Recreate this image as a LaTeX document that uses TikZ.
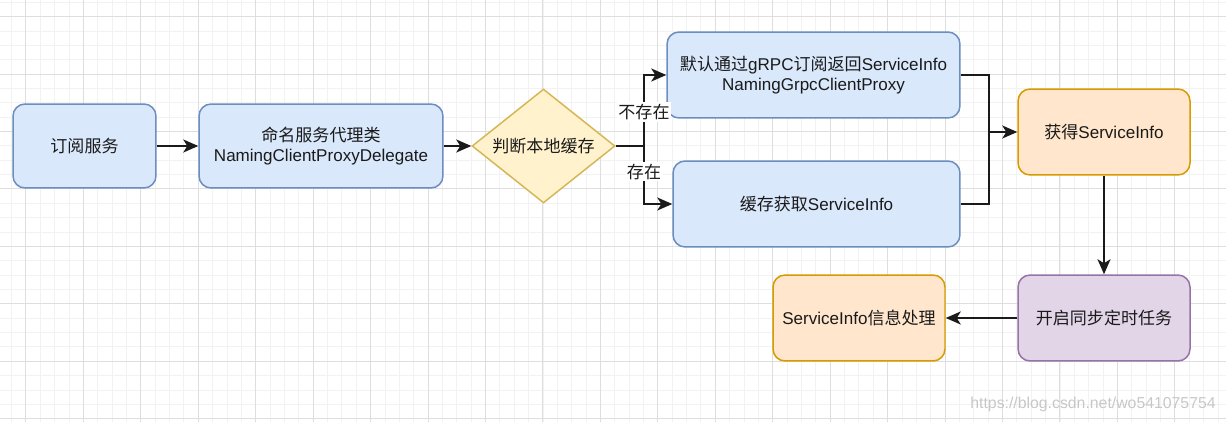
\documentclass[tikz,border=0pt]{standalone}
\usepackage{fontspec}
\setmainfont{Liberation Sans}
\newfontfamily\cjk{Noto Sans CJK SC}
\usetikzlibrary{arrows.meta, positioning, shapes.geometric, calc}
\definecolor{bluefill}{HTML}{DAE8FC}
\definecolor{bluedraw}{HTML}{6C8EBF}
\definecolor{yellowfill}{HTML}{FFF2CC}
\definecolor{yellowdraw}{HTML}{D6B656}
\definecolor{orangefill}{HTML}{FFE6CC}
\definecolor{orangedraw}{HTML}{D79B00}
\definecolor{purplefill}{HTML}{E1D5E7}
\definecolor{purpledraw}{HTML}{9673A6}
\definecolor{cink}{HTML}{1A1A1A}
\tikzset{
  every picture/.style={font=\fontsize{9.7}{11.4}\selectfont, line width=0.85pt},
  box/.style={draw=#1draw, fill=#1fill, rounded corners=0.24cm, align=center, inner sep=2pt,
              minimum height=1.72cm, text=cink},
  box/.default=blue,
  decide/.style={diamond, draw=yellowdraw, fill=yellowfill, aspect=1.25, inner sep=0pt,
                 minimum width=2.86cm, minimum height=2.28cm, text=cink},
  arrow/.style={-{Stealth[length=0.3cm, width=0.26cm, inset=0.08cm]}, draw=cink, line width=1.1pt},
  link/.style={draw=cink, line width=1.1pt},
  lbl/.style={fill=white, inner sep=1pt, text=cink},
  gridminor/.style={draw=black!5, line width=0.4pt},
  gridmajor/.style={draw=black!13, line width=0.5pt},
  watermark/.style={text=black!22, font=\fontsize{9}{11}\selectfont},
}

\begin{document}
\begin{tikzpicture}[x=0.02cm, y=-0.02cm]
  \useasboundingbox (0,0) rectangle (1226,422);
  % background grid
  \foreach \i in {-1,...,84} \draw[gridminor] ({25.8+14.3625*\i},0) -- ({25.8+14.3625*\i},422);
  \foreach \j in {-1,...,28} \draw[gridminor] (0,{16.5+14.3625*\j}) -- (1226,{16.5+14.3625*\j});
  \foreach \i in {0,...,21} \draw[gridmajor] ({25.8+57.45*\i},0) -- ({25.8+57.45*\i},422);
  \foreach \j in {0,...,7} \draw[gridmajor] (0,{16.5+57.45*\j}) -- (1226,{16.5+57.45*\j});

  \node[box, minimum width=2.86cm, minimum height=1.68cm] (sub) at (84.5,146) {{\cjk 订阅服务}};
  \node[box, minimum width=4.88cm, minimum height=1.68cm] (proxy) at (321,146)
    {{\cjk 命名服务代理类}\\NamingClientProxyDelegate};
  \node[decide] (cache) at (543.5,146) {{\cjk 判断本地缓存}};
  \node[box, minimum width=5.86cm] (grpc) at (813.5,75)
    {{\cjk 默认通过}gRPC{\cjk 订阅返回}ServiceInfo\\NamingGrpcClientProxy};
  \node[box, minimum width=5.74cm] (local) at (816.5,204) {{\cjk 缓存获取}ServiceInfo};
  \node[box=orange, minimum width=3.44cm] (got) at (1104,132) {{\cjk 获得}ServiceInfo};
  \node[box=purple, minimum width=3.44cm] (sync) at (1104,318) {{\cjk 开启同步定时任务}};
  \node[box=orange, minimum width=3.44cm] (handle) at (859,318) {ServiceInfo{\cjk 信息处理}};

  \coordinate (split) at (644,146);
  \coordinate (join) at (989,132);

  \draw[arrow] (sub) -- (proxy);
  \draw[arrow] (proxy) -- (cache);
  \draw[arrow] (cache.east) -- (split) |- node[lbl, pos=0.24] (nolbl) {{\cjk 不存在}} (grpc.west);
  \draw[arrow] (split) |- node[lbl, pos=0.22] (yeslbl) {{\cjk 存在}} (local.west);
  \draw[link] (grpc.east) -| (join);
  \draw[link] (local.east) -| (join);
  \draw[arrow] (join) -- (got.west);
  \draw[arrow] (got) -- (sync);
  \draw[arrow] (sync) -- (handle);

  \node[watermark] (wm) at (1093,404) {https://blog.csdn.net/wo541075754};
\end{tikzpicture}
\end{document}
